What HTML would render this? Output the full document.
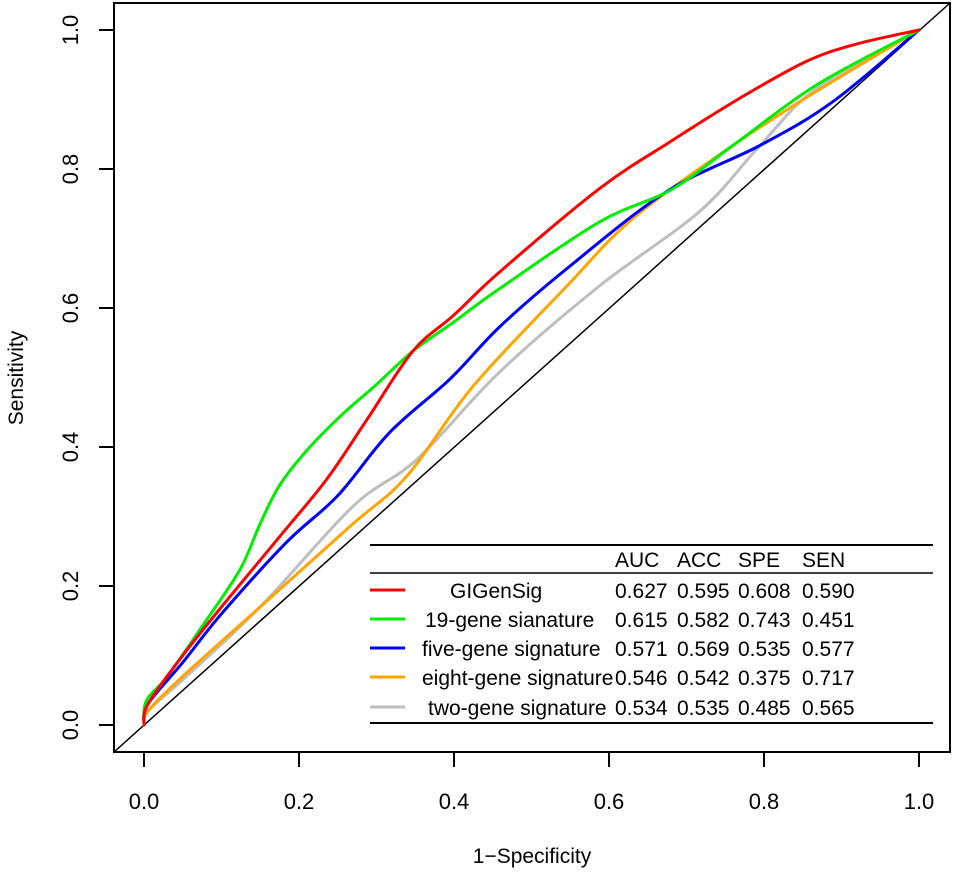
<!DOCTYPE html>
<html><head><meta charset="utf-8"><style>
body{margin:0;background:#fff}
svg{display:block;font-family:"Liberation Sans",Arial,sans-serif}
</style></head><body>
<svg id="chart" width="955" height="872" viewBox="0 0 955 872">
<g id="plot"></g>
</svg>
<script>
const xTicks=[0,0.2,0.4,0.6,0.8,1.0];
const yTicks=[0,0.2,0.4,0.6,0.8,1.0];
const tickLabels=["0.0","0.2","0.4","0.6","0.8","1.0"];
const seriesNames=["GIGenSig","19-gene sianature","five-gene signature","eight-gene signature","two-gene signature"];
const seriesColors=["#ff0000","#00ee00","#0000ff","#ffa500","#bebebe"];
const redX=[0,0.005,0.05,0.1,0.175,0.236,0.288,0.347,0.4,0.459,0.588,0.68,0.769,0.855,0.92,1];
const redY=[0,0.03,0.1,0.17,0.271,0.354,0.44,0.538,0.59,0.652,0.772,0.84,0.902,0.955,0.98,1];
const greenX=[0,0.003,0.03,0.08,0.124,0.15,0.175,0.21,0.253,0.3,0.347,0.4,0.459,0.588,0.68,0.76,0.868,1];
const greenY=[0,0.035,0.07,0.15,0.224,0.29,0.345,0.395,0.444,0.49,0.538,0.58,0.628,0.724,0.77,0.834,0.921,1];
const blueX=[0,0.005,0.05,0.1,0.184,0.25,0.317,0.395,0.459,0.546,0.675,0.795,0.889,1];
const blueY=[0,0.03,0.09,0.16,0.263,0.33,0.421,0.498,0.573,0.657,0.768,0.834,0.897,1];
const orangeX=[0,0.005,0.05,0.15,0.266,0.339,0.425,0.546,0.631,0.76,0.868,1];
const orangeY=[0,0.02,0.07,0.17,0.286,0.358,0.488,0.632,0.729,0.834,0.912,1];
const grayX=[0,0.005,0.05,0.15,0.27,0.352,0.459,0.588,0.717,0.795,0.868,1];
const grayY=[0,0.02,0.065,0.17,0.315,0.382,0.508,0.632,0.739,0.834,0.916,1];
const aucVals=["0.627","0.615","0.571","0.546","0.534"];
const accVals=["0.595","0.582","0.569","0.542","0.535"];
const speVals=["0.608","0.743","0.535","0.375","0.485"];
const senVals=["0.590","0.451","0.577","0.717","0.565"];

const NS="http://www.w3.org/2000/svg";
const g=document.getElementById('plot');
const sx=v=>144+v*775, sy=v=>725-v*695;
function mk(t,a,txt){const e=document.createElementNS(NS,t);for(const k in a)e.setAttribute(k,a[k]);if(txt!==undefined)e.textContent=txt;g.appendChild(e);return e;}
function smoothPath(P){
  let d='M'+P[0][0]+','+P[0][1];
  for(let i=0;i<P.length-1;i++){
    const p0=P[Math.max(0,i-1)],p1=P[i],p2=P[i+1],p3=P[Math.min(P.length-1,i+2)];
    const c1=[p1[0]+(p2[0]-p0[0])/6,p1[1]+(p2[1]-p0[1])/6];
    const c2=[p2[0]-(p3[0]-p1[0])/6,p2[1]-(p3[1]-p1[1])/6];
    d+=` C${c1[0]},${c1[1]} ${c2[0]},${c2[1]} ${p2[0]},${p2[1]}`;
  }
  return d;
}
let e=mk('rect',{x:114,y:3,width:836,height:749,fill:'none',stroke:'#000','stroke-width':2});


e=mk('line',{x1:114,y1:752,x2:950,y2:3,stroke:'#000','stroke-width':1.5});


xTicks.forEach((v,i)=>{
  let t=mk('line',{x1:sx(v),x2:sx(v),y1:752,y2:767,stroke:'#000','stroke-width':2});
  
  
  let l=mk('text',{x:sx(v),y:809,'font-size':22,'text-anchor':'middle'},tickLabels[i]);
  
  
});
yTicks.forEach((v,i)=>{
  let t=mk('line',{x1:99,x2:114,y1:sy(v),y2:sy(v),stroke:'#000','stroke-width':2});
  
  
  let l=mk('text',{x:0,y:0,'font-size':22,'text-anchor':'middle',transform:`translate(78,${sy(v)}) rotate(-90)`},tickLabels[i]);
  
  
});
e=mk('text',{x:532,y:863,'font-size':21,'text-anchor':'middle'},'1\u2212Specificity');


e=mk('text',{x:0,y:0,'font-size':21,'text-anchor':'middle',transform:'translate(23,378) rotate(-90)'},'Sensitivity');


const allX=[redX,greenX,blueX,orangeX,grayX], allY=[redY,greenY,blueY,orangeY,grayY];
const order=[4,3,2,1,0];
order.forEach(i=>{
  const P=allX[i].map((x,j)=>[sx(x),sy(allY[i][j])]);
  let p=mk('path',{d:smoothPath(P),fill:'none',stroke:seriesColors[i],'stroke-width':3,'stroke-linejoin':'round','stroke-linecap':'round'});
  
  
});
[[545,2],[573,1.5],[723,2]].forEach(([y,w])=>{
  let l=mk('line',{x1:370,x2:933,y1:y,y2:y,stroke:'#000','stroke-width':w});
  
  
});
const hdr=["AUC","ACC","SPE","SEN"], colX=[615,677,738,802];
hdr.forEach((h,i)=>{
  let t=mk('text',{x:colX[i],y:567,'font-size':21},h);
  
  
});
const labelX=[450,425,422,422,428];
const rowY=[598,627,656,685,715];
seriesNames.forEach((n,i)=>{
  const y=rowY[i];
  let s=mk('line',{x1:370,x2:405,y1:y-8,y2:y-8,stroke:seriesColors[i],'stroke-width':3});
  
  
  let t=mk('text',{x:labelX[i],y:y,'font-size':21},n);
  
  
  [aucVals,accVals,speVals,senVals].forEach((arr,k)=>{
    let v=mk('text',{x:colX[k],y:y,'font-size':21},arr[i]);
    
    
  });
});
</script>
</body></html>
